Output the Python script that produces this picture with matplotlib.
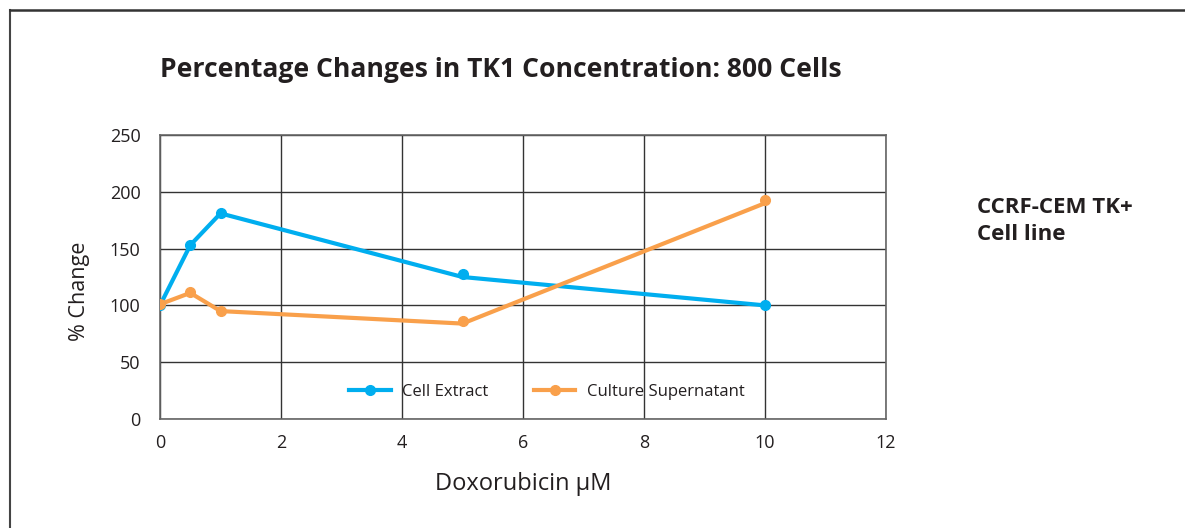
import numpy as np
import matplotlib
matplotlib.use("Agg")
import matplotlib.pyplot as plt
from matplotlib.lines import Line2D

plt.rcParams['font.family'] = ['Open Sans', 'DejaVu Sans']

# 数据
dose = [0, 0.5, 1, 5, 10]
cell_extract_pts = [100, 153, 181, 127.5, 100]
cell_extract_line = [100, 153, 181, 125, 100]
supernatant_pts = [101, 112, 95.5, 86.5, 192.5]
supernatant_line = [101, 111, 95, 84, 190]

series_names = ['Cell Extract', 'Culture Supernatant']
x_ticks = [0, 2, 4, 6, 8, 10, 12]
y_ticks = [0, 50, 100, 150, 200, 250]

blue = '#00AEEF'
orange = '#F9A04B'
ink = '#231F20'

fig = plt.figure(figsize=(11.85, 5.28), dpi=100)
ax = fig.add_axes([160 / 1185, 1 - 419 / 528, 726 / 1185, 284 / 528])

# 折线和点
ax.plot(dose, cell_extract_line, color=blue, lw=3, solid_capstyle='round', zorder=3)
ax.plot(dose, cell_extract_pts, 'o', color=blue, ms=7, zorder=4)
ax.plot(dose, supernatant_line, color=orange, lw=3, solid_capstyle='round', zorder=3)
ax.plot(dose, supernatant_pts, 'o', color=orange, ms=7, zorder=4)

ax.set_xlim(0, 12)
ax.set_ylim(0, 250)
ax.set_xticks(x_ticks)
ax.set_yticks(y_ticks)
ax.tick_params(length=0, labelsize=13, colors=ink)
ax.tick_params(axis='y', pad=14)
ax.tick_params(axis='x', pad=11)
ax.grid(True, color='#333333', lw=1)
ax.set_axisbelow(True)
for s in ax.spines.values():
    s.set_color('#666666')
    s.set_linewidth(1.2)

ax.set_xlabel('Doxorubicin µM', fontsize=17, color=ink, labelpad=14)
ax.set_ylabel('% Change', fontsize=15.5, color=ink)
ax.yaxis.set_label_coords(-0.097, 0.45)

# 图例
handles = [Line2D([], [], color=blue, lw=3, marker='o', ms=7),
           Line2D([], [], color=orange, lw=3, marker='o', ms=7)]
ax.legend(handles, series_names, loc='center', bbox_to_anchor=(0.533, 0.095),
          ncol=2, frameon=False, fontsize=12, handlelength=2.5, handletextpad=0.7,
          columnspacing=2.7, labelcolor=ink)

fig.text(160 / 1185, 1 - 70 / 528, 'Percentage Changes in TK1 Concentration: 800 Cells',
         fontsize=19.1, fontweight='bold', color=ink, va='center', ha='left')
fig.text(977 / 1185, 1 - 221 / 528, 'CCRF-CEM TK+\nCell line', fontsize=16,
         fontweight='bold', color=ink, va='center', ha='left', linespacing=1.42)

# 外框
fig.add_artist(plt.Line2D([10 / 1185, 10 / 1185], [0, 1 - 9.5 / 528], color='#444444', lw=1.5,
                          transform=fig.transFigure))
fig.add_artist(plt.Line2D([10 / 1185, 1], [1 - 9.5 / 528, 1 - 9.5 / 528], color='#333333', lw=1.8,
                          transform=fig.transFigure))

fig.savefig('out.png', dpi=100)
